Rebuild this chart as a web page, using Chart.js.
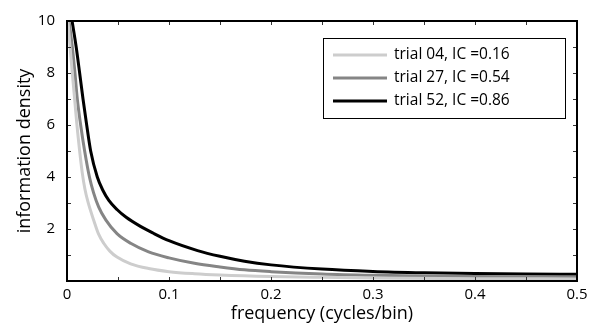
<!DOCTYPE html>
<html>
<head>
<meta charset="utf-8">
<script src="https://cdn.jsdelivr.net/npm/chart.js@4"></script>
<style>
html,body{margin:0;padding:0;background:#fff;}
#wrap{position:relative;width:597px;height:332px;}
</style>
</head>
<body>
<div id="wrap"><canvas id="c" width="597" height="332"></canvas></div>
<script>
// ---- data ----
const seriesLabels = ['trial 04, IC =0.16', 'trial 27, IC =0.54', 'trial 52, IC =0.86'];
const seriesColors = ['#cdcdcd', '#858585', '#000000'];

const freqLight = [0.001, 0.003, 0.0052, 0.0075, 0.0095, 0.0124, 0.015, 0.0175, 0.0205, 0.0265, 0.031, 0.036, 0.042, 0.049, 0.0624, 0.08, 0.1, 0.125, 0.15, 0.2, 0.25, 0.3, 0.4, 0.5];
const densLight = [10, 9, 8, 7, 6.1, 5, 4.15, 3.55, 3.05, 2.3, 1.8, 1.45, 1.15, 0.92, 0.66, 0.48, 0.36, 0.28, 0.23, 0.17, 0.14, 0.12, 0.09, 0.08];

const freqGray = [0.002, 0.0052, 0.0078, 0.0101, 0.0134, 0.0173, 0.022, 0.026, 0.031, 0.038, 0.049, 0.0624, 0.08, 0.1, 0.125, 0.15, 0.174, 0.2, 0.25, 0.3, 0.35, 0.4, 0.45, 0.5];
const densGray = [10, 9, 8, 7, 6, 5, 4, 3.4, 2.85, 2.35, 1.82, 1.45, 1.12, 0.89, 0.68, 0.54, 0.43, 0.36, 0.27, 0.22, 0.19, 0.17, 0.16, 0.15];

const freqBlack = [0.005, 0.009, 0.0124, 0.0157, 0.0193, 0.0232, 0.0297, 0.035, 0.041, 0.049, 0.058, 0.072, 0.084, 0.1, 0.128, 0.15, 0.174, 0.2, 0.25, 0.3, 0.35, 0.4, 0.45, 0.5];
const densBlack = [10, 9, 8, 7, 6, 5, 4, 3.5, 3.1, 2.75, 2.45, 2.1, 1.85, 1.55, 1.17, 0.95, 0.76, 0.62, 0.46, 0.37, 0.32, 0.29, 0.27, 0.26];

const xTickLabels = ['0', '0.1', '0.2', '0.3', '0.4', '0.5'];
const yTickLabels = ['2', '4', '6', '8', '10'];
const xTitle = 'frequency (cycles/bin)';
const yTitle = 'information density';

const FONT = '"Open Sans", Lato, sans-serif';

function pts(xs, ys) { return xs.map((x, i) => ({x: x, y: ys[i]})); }

const allX = [freqLight, freqGray, freqBlack];
const allY = [densLight, densGray, densBlack];

const datasets = seriesLabels.map((lab, i) => ({
  label: lab,
  data: pts(allX[i], allY[i]),
  borderColor: seriesColors[i],
  borderWidth: 3,
  pointRadius: 0,
  fill: false,
  cubicInterpolationMode: 'monotone'
}));

// inward ticks, box frame and legend
const framePlugin = {
  id: 'frame',
  afterDraw(chart) {
    const ctx = chart.ctx;
    const a = chart.chartArea;
    const xs = chart.scales.x, ys = chart.scales.y;
    ctx.save();
    ctx.strokeStyle = '#333';
    ctx.lineWidth = 1;
    const tl = 4;
    xs.ticks.forEach(t => {
      const px = Math.round(xs.getPixelForValue(t.value)) + 0.5;
      ctx.beginPath();
      ctx.moveTo(px, a.bottom); ctx.lineTo(px, a.bottom - tl);
      ctx.moveTo(px, a.top); ctx.lineTo(px, a.top + tl);
      ctx.stroke();
    });
    ys.ticks.forEach(t => {
      const py = Math.round(ys.getPixelForValue(t.value)) + 0.5;
      ctx.beginPath();
      ctx.moveTo(a.left, py); ctx.lineTo(a.left + tl, py);
      ctx.moveTo(a.right, py); ctx.lineTo(a.right - tl, py);
      ctx.stroke();
    });
    ctx.strokeStyle = '#000';
    ctx.lineWidth = 2;
    ctx.strokeRect(a.left, a.top, a.right - a.left, a.bottom - a.top);

    // legend box
    const bx = 323, by = 38, bw = 242, bh = 80;
    ctx.fillStyle = '#fff';
    ctx.fillRect(bx, by, bw, bh);
    ctx.lineWidth = 1;
    ctx.strokeStyle = '#000';
    ctx.strokeRect(bx + 0.5, by + 0.5, bw, bh);
    ctx.font = '15.5px ' + FONT;
    ctx.textBaseline = 'middle';
    ctx.textAlign = 'left';
    chart.data.datasets.forEach((ds, i) => {
      const yy = by + 17 + i * 23;
      ctx.strokeStyle = ds.borderColor;
      ctx.lineWidth = 3;
      ctx.beginPath();
      ctx.moveTo(333, yy); ctx.lineTo(387, yy);
      ctx.stroke();
      ctx.fillStyle = '#000';
      ctx.fillText(ds.label, 394, yy);
    });
    ctx.restore();
  }
};

new Chart(document.getElementById('c'), {
  type: 'line',
  data: { datasets: datasets },
  options: {
    responsive: false,
    animation: false,
    layout: { padding: { top: 14, right: 20, left: 0, bottom: 0 } },
    plugins: { legend: { display: false }, tooltip: { enabled: false } },
    scales: {
      x: {
        type: 'linear', min: 0, max: 0.5,
        grid: { display: false, drawTicks: false },
        border: { display: false },
        ticks: {
          stepSize: 0.05,
          autoSkip: false,
          maxRotation: 0,
          padding: 5,
          color: '#000',
          font: { family: FONT, size: 15 },
          callback: (v) => {
            const k = Math.round(v * 100);
            return k % 10 === 0 ? xTickLabels[k / 10] : '';
          }
        },
        title: { display: true, text: xTitle, color: '#000', font: { family: FONT, size: 18 }, padding: { top: 0, bottom: 7 } },
        afterFit: (s) => { s.height = 51; }
      },
      y: {
        min: 0, max: 10,
        grid: { display: false, drawTicks: false },
        border: { display: false },
        ticks: {
          stepSize: 1,
          autoSkip: false,
          padding: 12,
          color: '#000',
          font: { family: FONT, size: 15 },
          callback: (v) => (v > 0 && v % 2 === 0) ? yTickLabels[v / 2 - 1] : ''
        },
        title: { display: true, text: yTitle, color: '#000', font: { family: FONT, size: 18 }, padding: { top: 14, bottom: 0 } },
        afterFit: (s) => { s.width = 67; }
      }
    }
  },
  plugins: [framePlugin]
});
</script>
</body>
</html>
